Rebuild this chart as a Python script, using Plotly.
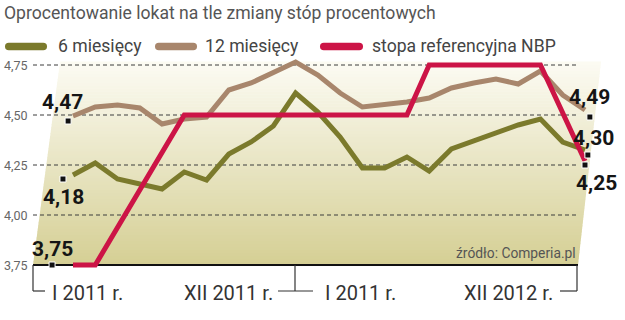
import plotly.graph_objects as go

# ---------------- data ----------------
roman = ["I", "II", "III", "IV", "V", "VI", "VII", "VIII", "IX", "X", "XI", "XII"]
years = [2011, 2012]
months = [f"{r} {y}" for y in years for r in roman]

six_months = [4.20, 4.26, 4.18, 4.155, 4.13, 4.215, 4.175, 4.305, 4.365, 4.445,
              4.61, 4.515, 4.39, 4.235, 4.235, 4.29, 4.22, 4.33, 4.37, 4.415,
              4.45, 4.48, 4.365, 4.325]
twelve_months = [4.495, 4.54, 4.55, 4.535, 4.455, 4.48, 4.49, 4.625, 4.66, 4.71,
                 4.765, 4.70, 4.61, 4.54, 4.55, 4.565, 4.585, 4.635, 4.66, 4.68,
                 4.655, 4.72, 4.60, 4.525]
nbp_rate = [3.75, 3.75, None, None, None, 4.50, None, None, None, None,
            None, None, None, None, None, 4.50, 4.75, None, None, None,
            None, 4.75, None, 4.27]

start_values = [4.47, 4.18, 3.75]   # 12 m, 6 m, NBP
end_values = [4.49, 4.30, 4.25]
y_ticks = [3.75, 4.00, 4.25, 4.50, 4.75]
y_tick_text = ["3,75", "4,00", "4,25", "4,50", "4,75"]
x_labels = ["I 2011 r.", "XII 2011 r.", "I 2011 r.", "XII 2012 r."]

# ---------------- style ----------------
W, H = 625, 320
FONT = "Roboto, sans-serif"
GREEN = "#7b7a2c"
BROWN = "#a8866c"
RED = "#cc1446"
LW = 5

def px(x):
    return x / W

def py(y):
    return 1 - y / H

x_idx = list(range(len(months)))

fig = go.Figure()

fig.add_trace(go.Scatter(x=x_idx, y=six_months, mode="lines",
                         line=dict(color=GREEN, width=LW), hoverinfo="skip"))
fig.add_trace(go.Scatter(x=x_idx, y=twelve_months, mode="lines",
                         line=dict(color=BROWN, width=LW), hoverinfo="skip"))
fig.add_trace(go.Scatter(x=x_idx, y=nbp_rate, mode="lines", connectgaps=True,
                         line=dict(color=RED, width=LW), hoverinfo="skip"))

# end-point markers (offsets from first/last month, in months)
start_off = [-0.22, -0.45, -0.94]
end_off = [0.22, 0.13, 0.0]
mx = [x_idx[0] + o for o in start_off] + [x_idx[-1] + o for o in end_off]
my = start_values + end_values
fig.add_trace(go.Scatter(x=mx, y=my, mode="markers", cliponaxis=False,
                         marker=dict(symbol="square", size=6, color="#111",
                                     line=dict(color="white", width=1)),
                         hoverinfo="skip"))

fmt = lambda v: f"{v:.2f}".replace(".", ",")
label_shift = [(-6, 19), (1, -18), (0, 16), (0, 20), (6, 17), (11, -18)]
annotations = []
for xv, yv, (dx, dy) in zip(mx, my, label_shift):
    annotations.append(dict(x=xv, y=yv, xref="x", yref="y",
                            text="<b>" + fmt(yv) + "</b>",
                            showarrow=False, xshift=dx, yshift=dy,
                            font=dict(family=FONT, size=21, color="#151515")))

shapes = []
# gradient background trapezoid built from thin strips
top, bot = 62, 265
n = 68
c_bot = (213, 207, 148)
c_top = (252, 251, 243)
for k in range(n):
    y0 = bot - (bot - top) * k / n
    y1 = bot - (bot - top) * (k + 1) / n - 0.6
    t = (k + 0.5) / n
    c = tuple(int(round(c_bot[j] + (c_top[j] - c_bot[j]) * t)) for j in range(3))
    xl0 = 33 + (bot - y0) * 27 / (bot - top)
    xl1 = 33 + (bot - y1) * 27 / (bot - top)
    xr0 = 578 + (bot - y0) * 23 / (bot - top)
    xr1 = 578 + (bot - y1) * 23 / (bot - top)
    path = (f"M{px(xl0)},{py(y0)} L{px(xr0)},{py(y0)} "
            f"L{px(xr1)},{py(y1)} L{px(xl1)},{py(y1)} Z")
    shapes.append(dict(type="path", xref="paper", yref="paper", path=path,
                       fillcolor=f"rgb{c}", line=dict(width=0), layer="below"))

# dashed grid lines
for v in y_ticks[1:]:
    shapes.append(dict(type="line", xref="paper", yref="y", x0=px(33), x1=px(578),
                       y0=v, y1=v, line=dict(color="#3c3c3c", width=1, dash="4px,3px"),
                       layer="below"))
# base line
shapes.append(dict(type="line", xref="paper", yref="y", x0=px(33), x1=px(578),
                   y0=y_ticks[0], y1=y_ticks[0], line=dict(color="#111", width=2),
                   layer="below"))

# period brackets
bc = dict(color="#333", width=1.2)
for (x0, y0, x1, y1) in [(33, 265, 33, 291), (33, 291, 45, 291),
                         (295, 265, 295, 291), (278, 291, 313, 291),
                         (560, 291, 577, 291), (577, 265, 577, 291)]:
    shapes.append(dict(type="line", xref="paper", yref="paper",
                       x0=px(x0), y0=py(y0), x1=px(x1), y1=py(y1), line=bc))

# legend bars (rounded)
def pill(x0, x1, yc, h):
    r = h / 2
    yt, yb = yc - r, yc + r
    return (f"M{px(x0 + r)},{py(yt)} L{px(x1 - r)},{py(yt)} "
            f"Q{px(x1)},{py(yt)} {px(x1)},{py(yc)} "
            f"Q{px(x1)},{py(yb)} {px(x1 - r)},{py(yb)} "
            f"L{px(x0 + r)},{py(yb)} "
            f"Q{px(x0)},{py(yb)} {px(x0)},{py(yc)} "
            f"Q{px(x0)},{py(yt)} {px(x0 + r)},{py(yt)} Z")

legend_items = [("6 miesięcy", GREEN, 5, 47, 56),
                ("12 miesięcy", BROWN, 155, 197, 203),
                ("stopa referencyjna NBP", RED, 320, 363, 370)]
for name, col, b0, b1, tx in legend_items:
    shapes.append(dict(type="path", xref="paper", yref="paper",
                       path=pill(b0, b1, 46.5, 7.5), fillcolor=col,
                       line=dict(width=0)))
    annotations.append(dict(x=px(tx), y=py(46), xref="paper", yref="paper",
                            text=name, showarrow=False, xanchor="left",
                            yanchor="middle",
                            font=dict(family=FONT, size=17.6, color="#444")))

# title
annotations.append(dict(x=px(2), y=py(13), xref="paper", yref="paper",
                        text="Oprocentowanie lokat na tle zmiany stóp procentowych",
                        showarrow=False, xanchor="left", yanchor="middle",
                        font=dict(family=FONT, size=17.6, color="#555")))
# source
annotations.append(dict(x=px(578), y=py(253), xref="paper", yref="paper",
                        text="źródło: Comperia.pl", showarrow=False,
                        xanchor="right", yanchor="middle",
                        font=dict(family=FONT, size=13.8, color="#555")))
# period labels
for txt, xpos, anc in zip(x_labels, [50, 275, 323, 555],
                          ["left", "right", "left", "right"]):
    annotations.append(dict(x=px(xpos), y=py(293), xref="paper", yref="paper",
                            text=txt, showarrow=False, xanchor=anc,
                            yanchor="middle",
                            font=dict(family=FONT, size=20, color="#333")))

# y tick labels
for v, t in zip(y_ticks, y_tick_text):
    annotations.append(dict(x=px(2), y=v, xref="paper", yref="y", text=t,
                            showarrow=False, xanchor="left", yanchor="middle",
                            font=dict(family=FONT, size=12.5, color="#666")))

x_first_px, x_step_px = 73, (585 - 73) / 23
fig.update_layout(
    width=W, height=H, margin=dict(l=0, r=0, t=0, b=0),
    paper_bgcolor="white", plot_bgcolor="rgba(0,0,0,0)",
    showlegend=False, shapes=shapes, annotations=annotations,
    xaxis=dict(range=[-x_first_px / x_step_px, (W - x_first_px) / x_step_px],
               visible=False, fixedrange=True),
    yaxis=dict(range=[3.75 - (H - 265) / 200, 3.75 + 265 / 200],
               visible=False, fixedrange=True),
)

fig.write_html("out.html")
